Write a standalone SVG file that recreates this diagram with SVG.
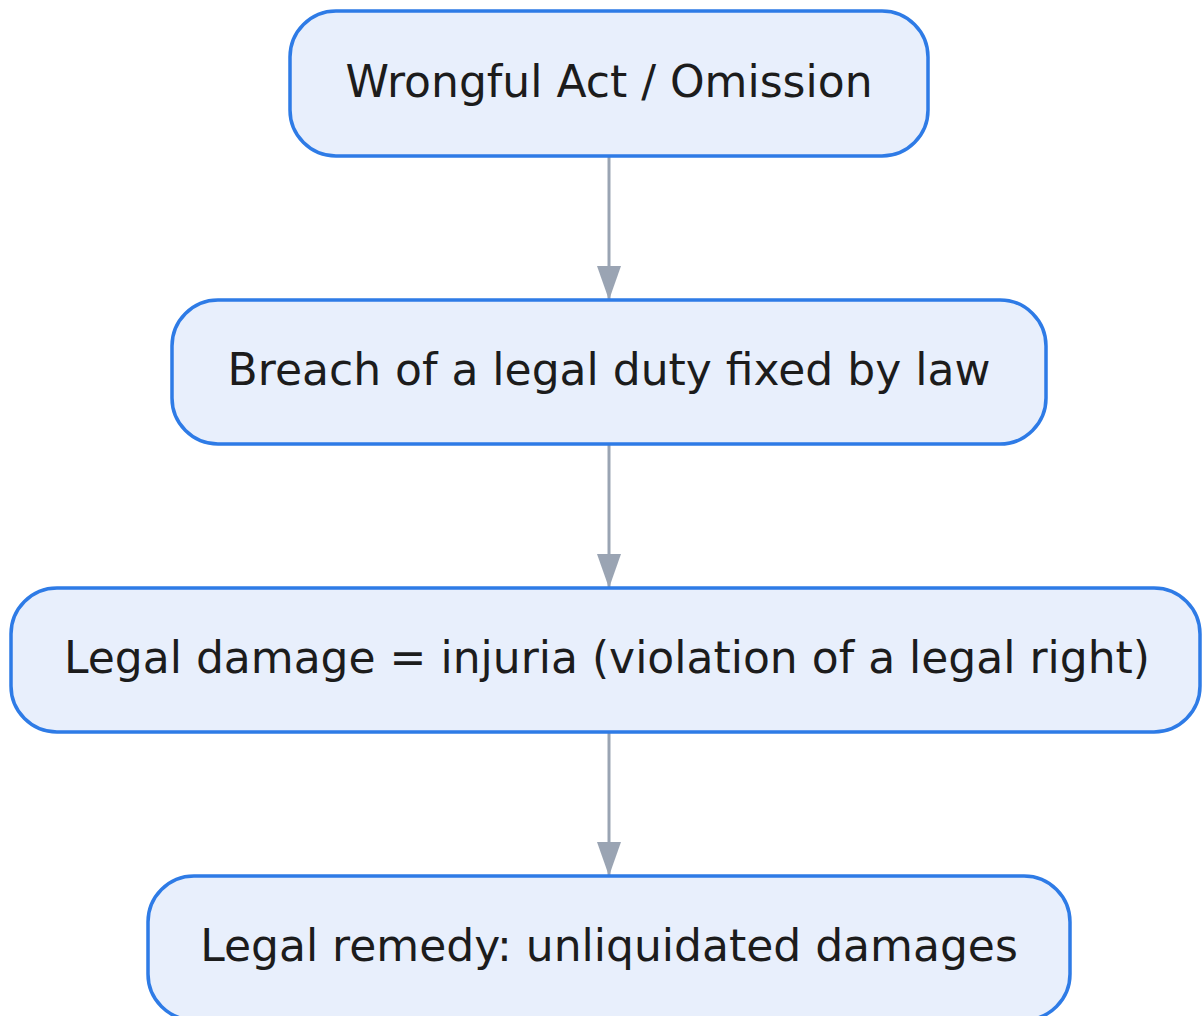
<svg xmlns="http://www.w3.org/2000/svg" width="1203" height="1016" viewBox="0 0 1203 1016">
<style>
.node rect{fill:#E8EFFC;stroke:#2E7BE6;stroke-width:3.5}
.node text{font-family:"DejaVu Sans",sans-serif;font-size:44px;fill:#1c1c1c;text-anchor:middle}
.edge{stroke:#9AA4B3;stroke-width:3;fill:none}
</style>
<defs>
<marker id="arr" viewBox="0 0 34 24" refX="34" refY="12" markerWidth="34" markerHeight="24" markerUnits="userSpaceOnUse" orient="auto">
<path d="M0,0 L34,12 L0,24 Z" fill="#9AA4B3"/>
</marker>
</defs>
<g id="edges">
<line class="edge" x1="609" y1="157" x2="609" y2="300" marker-end="url(#arr)"/>
<line class="edge" x1="609" y1="445" x2="609" y2="588" marker-end="url(#arr)"/>
<line class="edge" x1="609" y1="733" x2="609" y2="876" marker-end="url(#arr)"/>
</g>
<g id="n1" class="node"><rect x="290" y="11" width="638" height="145" rx="46"/><text x="609" y="97">Wrongful Act / Omission</text></g>
<g id="n2" class="node"><rect x="172" y="300" width="874" height="144" rx="46"/><text x="609" y="385">Breach of a legal duty fixed by law</text></g>
<g id="n3" class="node"><rect x="11" y="588" width="1189" height="144" rx="46"/><text x="607" y="673">Legal damage = injuria (violation of a legal right)</text></g>
<g id="n4" class="node"><rect x="148" y="876" width="922" height="144" rx="46"/><text x="609" y="961">Legal remedy: unliquidated damages</text></g>
</svg>
